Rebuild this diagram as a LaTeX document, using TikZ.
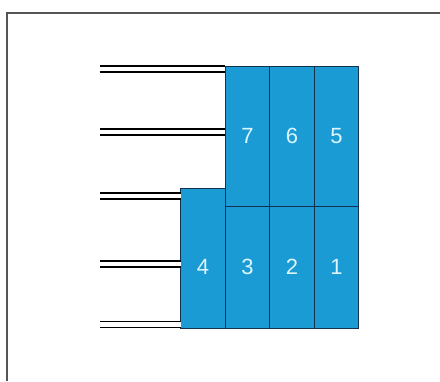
\documentclass[tikz,border=0pt]{standalone}
\usepackage{fontspec}
\setmainfont{Liberation Sans}
\definecolor{blockblue}{RGB}{27,155,212}
\definecolor{blockedge}{RGB}{20,50,80}
\definecolor{numcol}{RGB}{220,245,255}
\definecolor{framegray}{RGB}{85,85,85}
\begin{document}
\begin{tikzpicture}[x=1pt,y=-1pt,
  block/.style={draw=blockedge,line width=0.8pt,fill=blockblue,minimum width=44.5pt,inner sep=0pt,outer sep=0pt,text=numcol,font=\fontsize{22}{22}\selectfont},
  rail/.style={line width=1.4pt,double=white,double distance=4.4pt,draw=black}]
\useasboundingbox (0,0) rectangle (440,381);
\draw[framegray,line width=1.8pt] (7,381) -- (7,13) -- (440,13);
% top row
\node[block,minimum height=140pt] (b7) at (247.5,136) {7};
\node[block,minimum height=140pt] (b6) at (292,136) {6};
\node[block,minimum height=140pt] (b5) at (336.5,136) {5};
% bottom row
\node[block,minimum height=122pt] (b3) at (247.5,267) {3};
\node[block,minimum height=122pt] (b2) at (292,267) {2};
\node[block,minimum height=122pt] (b1) at (336.5,267) {1};
\node[block,minimum height=140pt,label={[text=numcol,font=\fontsize{22}{22}\selectfont,yshift=-9pt]center:4}] (b4) at (203,258) {};
% rails
\coordinate (r1) at (100,69);
\coordinate (r2) at (100,132);
\coordinate (r3) at (100,196);
\coordinate (r4) at (100,264);
\coordinate (r5) at (100,324.5);
\draw[rail] (r1) -- (r1 -| b7.west);
\draw[rail] (r2) -- (r2 -| b7.west);
\draw[rail] (r3) -- (r3 -| b4.west);
\draw[rail] (r4) -- (r4 -| b4.west);
\draw[rail] (r5) -- (r5 -| b4.west);
\end{tikzpicture}
\end{document}
